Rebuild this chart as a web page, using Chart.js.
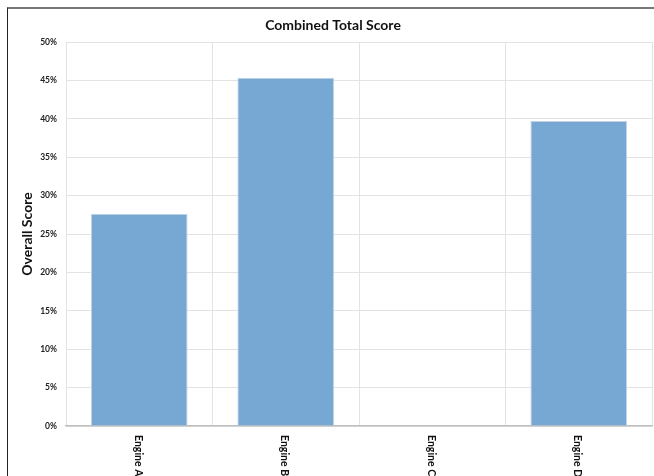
<!DOCTYPE html>
<html>
<head>
<meta charset="utf-8">
<title>Combined Total Score</title>
<script src="https://cdn.jsdelivr.net/npm/chart.js@4/dist/chart.umd.min.js"></script>
<style>
  html, body { margin: 0; padding: 0; background: #ffffff; overflow: hidden; }
  #wrap { position: relative; width: 654px; height: 476px; }
  #frame {
    position: absolute; left: 7px; top: 7px; width: 700px; height: 520px;
    border-left: 1.5px solid #222; border-top: 2px solid #777; box-sizing: border-box;
    pointer-events: none;
  }
  canvas { position: absolute; left: 0; top: 0; }
</style>
</head>
<body>
<div id="wrap">
  <canvas id="chart" width="654" height="476"></canvas>
  <div id="frame"></div>
</div>
<script>
// Combined score per engine (fraction of 1)
const engines = ['Engine A', 'Engine B', 'Engine C', 'Engine D'];
const overallScore = [0.2765, 0.4535, 0, 0.397];
const chartTitle = 'Combined Total Score';
const yAxisTitle = 'Overall Score';

const FONT = "Lato, 'Open Sans', 'Liberation Sans', sans-serif";

// Title and rotated category labels (top-to-bottom reading direction)
const textPlugin = {
  id: 'textPlugin',
  afterDraw(chart) {
    const ctx = chart.ctx;
    const xs = chart.scales.x;
    ctx.save();
    ctx.fillStyle = '#111';
    ctx.font = 'bold 14px ' + FONT;
    ctx.textAlign = 'center';
    ctx.textBaseline = 'middle';
    ctx.fillText(chartTitle, 333, 25);

    ctx.font = 'bold 10.5px ' + FONT;
    ctx.textAlign = 'left';
    ctx.textBaseline = 'middle';
    engines.forEach((name, i) => {
      const x = xs.getPixelForTick(i) - 1;
      ctx.save();
      ctx.translate(x, xs.top + 9);
      ctx.rotate(Math.PI / 2);
      ctx.fillText(name, 0, 0);
      ctx.restore();
    });
    ctx.restore();
  }
};

new Chart(document.getElementById('chart'), {
  type: 'bar',
  data: {
    labels: engines,
    datasets: [{
      data: overallScore,
      backgroundColor: '#77a7d3',
      borderColor: '#c3d3e3',
      borderWidth: 1,
      categoryPercentage: 0.66,
      barPercentage: 1
    }]
  },
  options: {
    responsive: false,
    animation: false,
    events: [],
    layout: { padding: { top: 42, left: 8, right: 2, bottom: 0 } },
    plugins: { legend: { display: false }, title: { display: false }, tooltip: { enabled: false } },
    scales: {
      x: {
        grid: { offset: true, color: '#e3e3e3', drawTicks: false },
        border: { color: '#c0c0c0', width: 1.5 },
        ticks: { display: false },
        afterFit(scale) { scale.height = 50; }
      },
      y: {
        min: 0,
        max: 0.5,
        ticks: {
          stepSize: 0.05,
          padding: 9,
          color: '#222',
          font: { family: FONT, size: 8.5, weight: 'bold' },
          callback: v => Math.round(v * 100) + '%'
        },
        grid: { color: '#e3e3e3', drawTicks: false },
        border: { display: false },
        title: {
          display: true,
          text: yAxisTitle,
          color: '#111',
          font: { family: FONT, size: 14, weight: 'bold' },
          padding: { top: 11, bottom: 0 }
        },
        afterFit(scale) { scale.width = 58; }
      }
    }
  },
  plugins: [textPlugin]
});
</script>
</body>
</html>
